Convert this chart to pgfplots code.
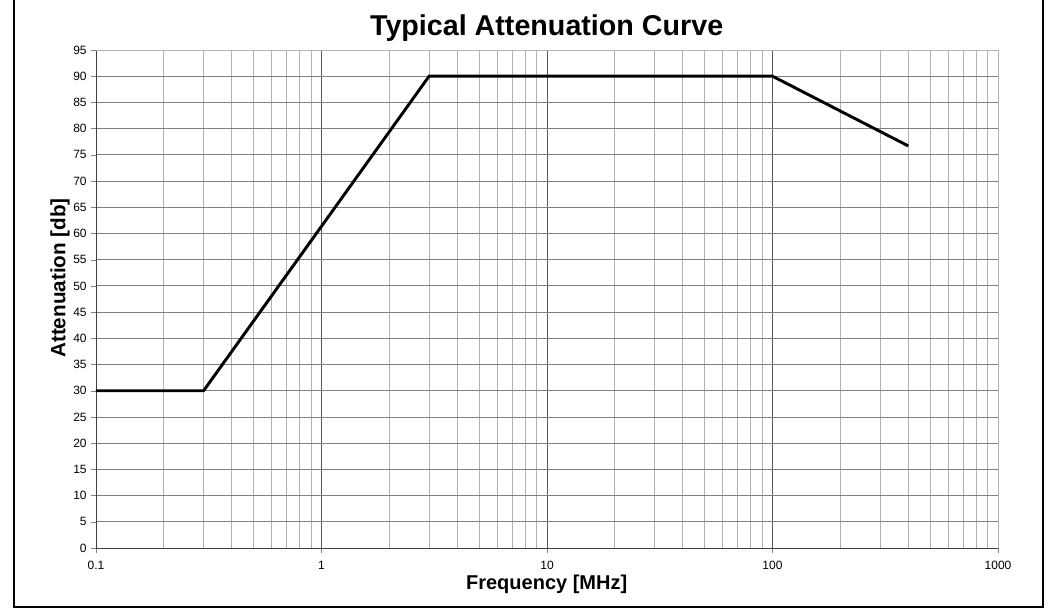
\documentclass[border=0pt]{standalone}
\usepackage{fontspec}
\setmainfont{Liberation Sans}
\usepackage{pgfplots}
\pgfplotsset{compat=1.18}
\begin{document}
\begin{tikzpicture}
\useasboundingbox (0,0) rectangle (786pt,456pt);
\draw[line width=1.5pt] (10.5pt,1.1pt) rectangle (782.25pt,457pt);
\begin{axis}[
  at={(72pt,45pt)}, anchor=south west,
  scale only axis, width=676.5pt, height=373.5pt,
  xmode=log, xmin=0.1, xmax=1000, ymin=0, ymax=95,
  xtick={0.1,1,10,100,1000}, xticklabels={0.1,1,10,100,1000},
  ytick={0,5,...,95},
  /pgf/number format/assume math mode=true,
  ticklabel style={font=\fontsize{9}{10}\selectfont},
  xticklabel style={yshift=-3pt},
  grid=both,
  major x grid style={black!65, line width=0.6pt},
  minor x grid style={black!30, line width=0.6pt},
  major y grid style={black!50, line width=0.6pt},
  minor tick length=0pt, major tick length=3.5pt,
  tick align=outside,
  axis line style={black!75, line width=0.6pt},
  axis x line*=bottom, axis y line*=left,
  xtick pos=bottom, ytick pos=left,
  clip=false,
]
\addplot[black, line width=2.2pt, line join=miter] coordinates {
 (0.1,30) (0.3,30) (3,90) (100,90) (400,76.7)
};
\draw[black!30, line width=0.6pt] (axis cs:0.1,95) -- (axis cs:1000,95) -- (axis cs:1000,0);
\end{axis}
\node[font=\bfseries\fontsize{21.5}{24}\selectfont] at (410pt,435pt) {Typical Attenuation Curve};
\node[font=\bfseries\fontsize{15}{17}\selectfont] at (410pt,18pt) {Frequency [MHz]};
\node[font=\bfseries\fontsize{15.5}{17}\selectfont, rotate=90] at (45pt,247.5pt) {Attenuation [db]};
\end{tikzpicture}
\end{document}
